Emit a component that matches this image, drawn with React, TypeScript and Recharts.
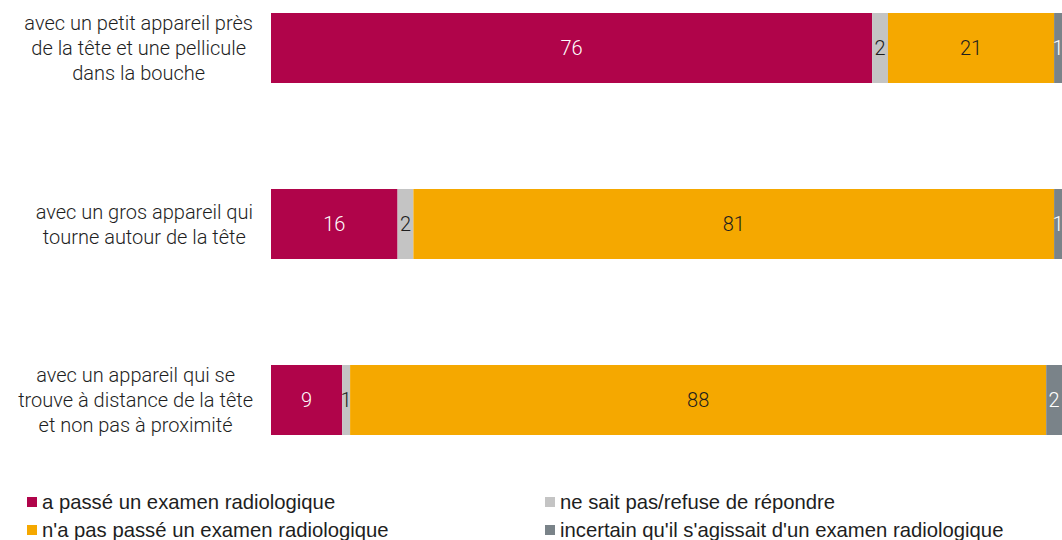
import React from "react";
import { BarChart, Bar, XAxis, YAxis, LabelList, Legend } from "recharts";

const categories = [
  "avec un petit appareil près\nde la tête et une pellicule\ndans la bouche",
  "avec un gros appareil qui\ntourne autour de la tête",
  "avec un appareil qui se\ntrouve à distance de la tête\net non pas à proximité",
];
const passe = [76, 16, 9];
const neSaitPas = [2, 2, 1];
const pasPasse = [21, 81, 88];
const incertain = [1, 1, 2];

const SERIES = [
  { key: "passe", name: "a passé un examen radiologique", color: "#B0044A", text: "#ffffff" },
  { key: "nsp", name: "ne sait pas/refuse de répondre", color: "#C4C4C4", text: "#1e1e1e" },
  { key: "pas", name: "n'a pas passé un examen radiologique", color: "#F5A800", text: "#1e1e1e" },
  { key: "inc", name: "incertain qu'il s'agissait d'un examen radiologique", color: "#7A8389", text: "#ffffff" },
];

const data = categories.map((name, i) => ({
  name,
  passe: passe[i],
  nsp: neSaitPas[i],
  pas: pasPasse[i],
  inc: incertain[i],
}));

const FONT = "Roboto, 'Liberation Sans', sans-serif";
const LABEL_SIZE = 20;
const LABEL_WEIGHT = 300;

let ctx: CanvasRenderingContext2D | null = null;
const measure = (s: string) => {
  if (!ctx) ctx = document.createElement("canvas").getContext("2d");
  if (!ctx) return s.length * 9;
  ctx.font = `${LABEL_WEIGHT} ${LABEL_SIZE}px ${FONT}`;
  return ctx.measureText(s).width;
};

// multi-line category label, centred block pushed against the bars
const CategoryTick = (props: any) => {
  const { y, payload } = props;
  const lines: string[] = String(payload.value).split("\n");
  const maxW = Math.max(...lines.map(measure));
  const cx = 253 - maxW / 2;
  const lh = 25;
  const startY = y - ((lines.length - 1) * lh) / 2;
  return (
    <text x={cx} y={startY} textAnchor="middle" fill="#1e1e1e" fontSize={LABEL_SIZE} fontWeight={LABEL_WEIGHT} fontFamily={FONT}>
      {lines.map((l, i) => (
        <tspan key={i} x={cx} y={startY + i * lh} dy="0.35em">
          {l}
        </tspan>
      ))}
    </text>
  );
};

const legendRows = [
  [SERIES[0], SERIES[1]],
  [SERIES[2], SERIES[3]],
];

const LegendContent = () => (
  <div style={{ position: "relative", width: 1062, height: 52, fontFamily: "'Liberation Sans Narrow', 'Liberation Sans', sans-serif", fontSize: 20.3, color: "#1e1e1e" }}>
    {legendRows.map((row, r) =>
      row.map((s, c) => (
        <div
          key={s.key}
          style={{
            position: "absolute",
            left: c === 0 ? 27 : 545,
            top: 3 + r * 28,
            height: 22,
            display: "flex",
            alignItems: "center",
            whiteSpace: "nowrap",
          }}
        >
          <span style={{ display: "inline-block", width: 10, height: 10, background: s.color, marginRight: 5 }} />
          {s.name}
        </div>
      ))
    )}
  </div>
);

export default function App() {
  return (
    <div style={{ position: "relative", width: 1062, height: 540, overflow: "hidden", background: "#fff" }}>
      <style>{"body{margin:0}"}</style>
      <div style={{ position: "absolute", top: -40, left: 0 }}>
        <BarChart
          width={1062}
          height={580}
          data={data}
          layout="vertical"
          margin={{ top: 0, right: 0, bottom: 52, left: 0 }}
        >
          <XAxis type="number" domain={[0, 100]} hide />
          <YAxis
            type="category"
            dataKey="name"
            width={271}
            axisLine={false}
            tickLine={false}
            tick={<CategoryTick />}
            interval={0}
          />
          {SERIES.map((s) => (
            <Bar key={s.key} dataKey={s.key} name={s.name} stackId="a" fill={s.color} barSize={70} isAnimationActive={false}>
              <LabelList dataKey={s.key} position="center" fill={s.text} fontSize={LABEL_SIZE} fontWeight={LABEL_WEIGHT} fontFamily={FONT} />
            </Bar>
          ))}
          <Legend
            layout="horizontal"
            verticalAlign="middle"
            align="center"
            wrapperStyle={{ top: 528, left: 0, width: 1062 }}
            content={<LegendContent />}
          />
        </BarChart>
      </div>
    </div>
  );
}
